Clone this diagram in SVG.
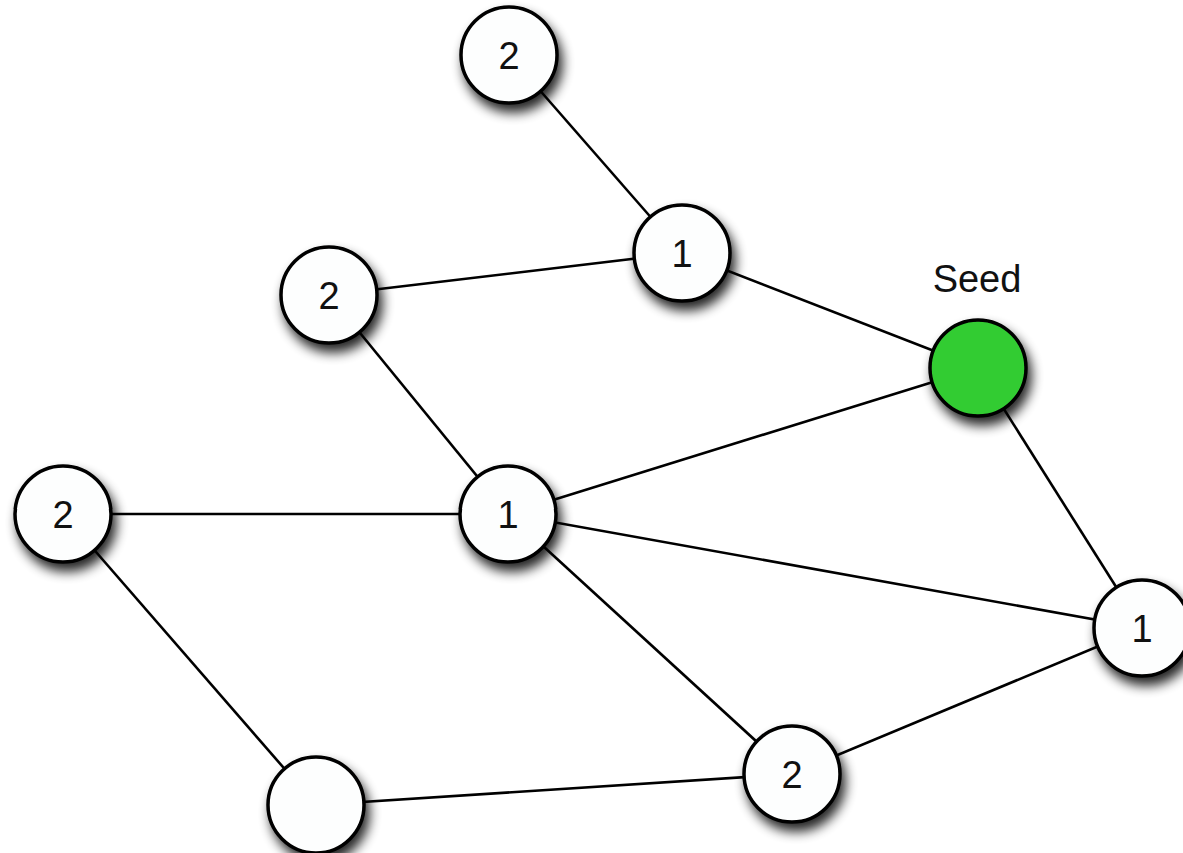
<svg xmlns="http://www.w3.org/2000/svg" width="1183" height="853" viewBox="0 0 1183 853">
<defs>
<filter id="sh" x="-50%" y="-50%" width="200%" height="200%">
<feGaussianBlur in="SourceAlpha" stdDeviation="6"/>
<feOffset dx="4" dy="8" result="b"/>
<feComponentTransfer><feFuncA type="linear" slope="0.85"/></feComponentTransfer>
<feMerge><feMergeNode/><feMergeNode in="SourceGraphic"/></feMerge>
</filter>
</defs>
<style>
.n{fill:#fdfefe;stroke:#000;stroke-width:3.5;filter:url(#sh)}
.seed{fill:#33cc33}
.t{font-family:"Liberation Sans",Arial,sans-serif;font-size:38px;text-anchor:middle;fill:#111}
.e line{stroke:#000;stroke-width:2.6}
</style>
<rect width="1183" height="853" fill="#fff"/>
<g id="edges" class="e">
<line x1="509" y1="55" x2="682" y2="253"/>
<line x1="682" y1="253" x2="329" y2="295"/>
<line x1="682" y1="253" x2="978" y2="368"/>
<line x1="329" y1="295" x2="508" y2="514"/>
<line x1="508" y1="514" x2="978" y2="368"/>
<line x1="63" y1="514" x2="508" y2="514"/>
<line x1="508" y1="514" x2="1142" y2="628"/>
<line x1="508" y1="514" x2="792" y2="774"/>
<line x1="978" y1="368" x2="1142" y2="628"/>
<line x1="63" y1="514" x2="316" y2="805"/>
<line x1="316" y1="805" x2="792" y2="774"/>
<line x1="792" y1="774" x2="1142" y2="628"/>
</g>
<g id="nA"><circle class="n" cx="509" cy="55" r="48"/><text class="t" x="509" y="69">2</text></g>
<g id="nB"><circle class="n" cx="682" cy="253" r="48"/><text class="t" x="682" y="267">1</text></g>
<g id="nC"><circle class="n" cx="329" cy="295" r="48"/><text class="t" x="329" y="309">2</text></g>
<g id="seed"><circle class="n seed" cx="978" cy="368" r="48"/><text class="t" x="977" y="292">Seed</text></g>
<g id="nD"><circle class="n" cx="508" cy="514" r="48"/><text class="t" x="508" y="528">1</text></g>
<g id="nE"><circle class="n" cx="63" cy="514" r="48"/><text class="t" x="63" y="528">2</text></g>
<g id="nF"><circle class="n" cx="1142" cy="628" r="48"/><text class="t" x="1142" y="642">1</text></g>
<g id="nG"><circle class="n" cx="792" cy="774" r="48"/><text class="t" x="792" y="788">2</text></g>
<g id="nH"><circle class="n" cx="316" cy="805" r="48"/></g>
</svg>
